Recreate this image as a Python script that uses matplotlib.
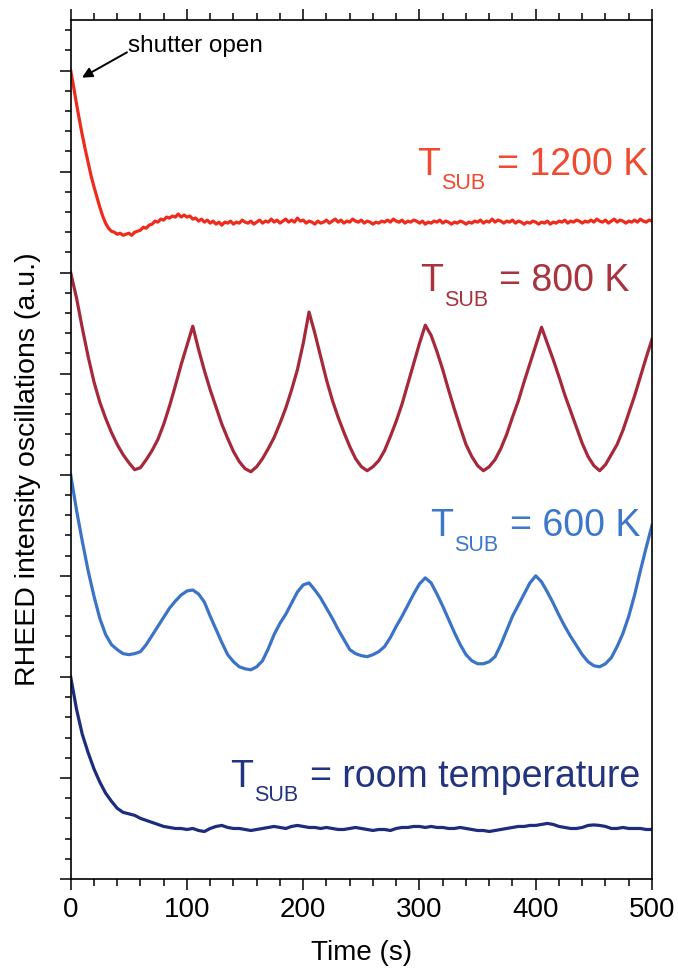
import numpy as np
import matplotlib
matplotlib.use("Agg")
import matplotlib.pyplot as plt
from matplotlib.ticker import MultipleLocator

plt.rcParams['font.family'] = ['Liberation Sans', 'DejaVu Sans']

# ---------------- data ----------------
time_5s = np.arange(0, 501, 5)
time_2p5s = np.arange(0, 500.1, 2.5)

# T_SUB = 1200 K (offset trace, sampled every 2.5 s)
i_1200k = [
    8.00, 7.84, 7.67, 7.51, 7.36, 7.22, 7.09, 6.96, 6.85, 6.75, 6.65, 6.56, 6.49, 6.44, 6.41, 6.40, 6.38, 6.39, 6.37, 6.38,
    6.39, 6.37, 6.40, 6.41, 6.42, 6.45, 6.44, 6.47, 6.48, 6.51, 6.50, 6.53, 6.52, 6.55, 6.54, 6.56, 6.55, 6.58, 6.55, 6.57,
    6.55, 6.56, 6.53, 6.54, 6.51, 6.53, 6.50, 6.52, 6.49, 6.51, 6.48, 6.50, 6.47, 6.50, 6.49, 6.51, 6.48, 6.50, 6.49, 6.52,
    6.50, 6.49, 6.51, 6.48, 6.50, 6.52, 6.49, 6.51, 6.50, 6.53, 6.50, 6.52, 6.49, 6.51, 6.53, 6.50, 6.52, 6.50, 6.54, 6.51,
    6.52, 6.49, 6.51, 6.50, 6.48, 6.51, 6.49, 6.50, 6.52, 6.49, 6.51, 6.53, 6.50, 6.52, 6.49, 6.51, 6.50, 6.53, 6.51, 6.50,
    6.52, 6.49, 6.51, 6.50, 6.48, 6.50, 6.49, 6.51, 6.50, 6.52, 6.50, 6.53, 6.51, 6.50, 6.52, 6.49, 6.51, 6.50, 6.52, 6.51,
    6.49, 6.51, 6.48, 6.50, 6.49, 6.51, 6.50, 6.52, 6.49, 6.51, 6.50, 6.48, 6.50, 6.49, 6.51, 6.50, 6.48, 6.50, 6.49, 6.51,
    6.50, 6.52, 6.49, 6.51, 6.50, 6.53, 6.50, 6.52, 6.51, 6.49, 6.51, 6.50, 6.52, 6.49, 6.51, 6.50, 6.48, 6.50, 6.49, 6.51,
    6.50, 6.48, 6.50, 6.49, 6.51, 6.48, 6.50, 6.49, 6.51, 6.50, 6.52, 6.49, 6.51, 6.50, 6.52, 6.51, 6.49, 6.51, 6.50, 6.52,
    6.50, 6.53, 6.51, 6.50, 6.52, 6.49, 6.51, 6.53, 6.50, 6.52, 6.51, 6.49, 6.51, 6.50, 6.52, 6.50, 6.53, 6.51, 6.50, 6.52,
    6.51,
]

# T_SUB = 800 K (sampled every 5 s)
i_800k = [
    6.00, 5.75, 5.45, 5.17, 4.92, 4.72, 4.56, 4.42, 4.30, 4.20,
    4.12, 4.05, 4.07, 4.15, 4.24, 4.35, 4.50, 4.68, 4.88, 5.09,
    5.28, 5.47, 5.24, 5.03, 4.84, 4.67, 4.50, 4.36, 4.23, 4.13,
    4.06, 4.03, 4.08, 4.16, 4.26, 4.37, 4.51, 4.66, 4.84, 5.04,
    5.30, 5.61, 5.40, 5.17, 4.94, 4.74, 4.57, 4.42, 4.28, 4.16,
    4.08, 4.04, 4.08, 4.14, 4.24, 4.38, 4.53, 4.70, 4.90, 5.10,
    5.30, 5.48, 5.38, 5.22, 5.04, 4.84, 4.65, 4.47, 4.30, 4.18,
    4.09, 4.04, 4.08, 4.15, 4.26, 4.40, 4.57, 4.73, 4.92, 5.10,
    5.28, 5.46, 5.30, 5.14, 4.97, 4.79, 4.63, 4.47, 4.31, 4.18,
    4.09, 4.04, 4.10, 4.20, 4.30, 4.44, 4.61, 4.78, 4.97, 5.16,
    5.34,
]

# T_SUB = 600 K (sampled every 5 s)
i_600k = [
    4.00, 3.65, 3.34, 3.05, 2.80, 2.58, 2.42, 2.32, 2.27, 2.23,
    2.22, 2.23, 2.25, 2.32, 2.41, 2.50, 2.59, 2.68, 2.75, 2.81,
    2.85, 2.86, 2.82, 2.74, 2.60, 2.47, 2.34, 2.22, 2.15, 2.10,
    2.08, 2.07, 2.10, 2.16, 2.28, 2.42, 2.53, 2.62, 2.73, 2.84,
    2.91, 2.93, 2.86, 2.78, 2.68, 2.58, 2.47, 2.37, 2.27, 2.23,
    2.21, 2.20, 2.22, 2.25, 2.30, 2.39, 2.50, 2.60, 2.71, 2.82,
    2.92, 2.98, 2.93, 2.82, 2.70, 2.57, 2.44, 2.32, 2.22, 2.16,
    2.13, 2.13, 2.15, 2.20, 2.32, 2.46, 2.60, 2.71, 2.82, 2.93,
    3.00, 2.94, 2.84, 2.73, 2.61, 2.50, 2.40, 2.31, 2.22, 2.15,
    2.11, 2.10, 2.13, 2.19, 2.30, 2.43, 2.60, 2.81, 3.05, 3.28,
    3.50,
]

# T_SUB = room temperature (sampled every 5 s)
i_room = [
    2.00, 1.68, 1.43, 1.25, 1.09, 0.96, 0.85, 0.77, 0.70, 0.66,
    0.645, 0.63, 0.60, 0.58, 0.56, 0.54, 0.52, 0.51, 0.50, 0.50,
    0.49, 0.50, 0.48, 0.47, 0.50, 0.52, 0.53, 0.51, 0.50, 0.50,
    0.49, 0.48, 0.49, 0.50, 0.51, 0.52, 0.51, 0.50, 0.52, 0.53,
    0.52, 0.51, 0.51, 0.50, 0.51, 0.50, 0.49, 0.49, 0.50, 0.51,
    0.50, 0.49, 0.48, 0.49, 0.49, 0.48, 0.50, 0.51, 0.51, 0.52,
    0.52, 0.51, 0.52, 0.51, 0.51, 0.50, 0.50, 0.51, 0.50, 0.49,
    0.48, 0.48, 0.47, 0.48, 0.49, 0.50, 0.51, 0.52, 0.52, 0.53,
    0.53, 0.54, 0.55, 0.54, 0.52, 0.51, 0.50, 0.50, 0.51, 0.53,
    0.535, 0.53, 0.52, 0.50, 0.50, 0.51, 0.50, 0.50, 0.50, 0.49,
    0.49,
]

labels_rest = ["1200 K", "800 K", "600 K", "room temperature"]
x_ticks = [0, 100, 200, 300, 400, 500]

# ---------------- figure ----------------
DPI = 100
fig = plt.figure(figsize=(6.78, 9.69), dpi=DPI)
ax = fig.add_axes([70.7 / 678, 1 - 879 / 969, (652 - 70.7) / 678, (879 - 20) / 969])

c1200, c800, c600, croom = "#ee2b1c", "#a6293b", "#3b74c6", "#1d2c7c"
lw = 2.3
ax.plot(time_2p5s, i_1200k, color=c1200, lw=2.3, solid_joinstyle='round')
ax.plot(time_5s, i_800k, color=c800, lw=lw, solid_joinstyle='round')
ax.plot(time_5s, i_600k, color=c600, lw=lw, solid_joinstyle='round')
ax.plot(time_5s, i_room, color=croom, lw=lw, solid_joinstyle='round')

ax.set_xlim(0, 500)
ax.set_ylim(0, 8.5)
ax.set_xticks(x_ticks)
ax.xaxis.set_minor_locator(MultipleLocator(20))
ax.yaxis.set_major_locator(MultipleLocator(1))
ax.yaxis.set_minor_locator(MultipleLocator(0.2))
ax.tick_params(axis='x', which='both', direction='out', top=True, bottom=True,
               labelsize=20, pad=5, width=1.1)
ax.tick_params(axis='x', which='major', length=8)
ax.tick_params(axis='x', which='minor', length=5)
ax.tick_params(axis='y', which='both', direction='out', left=True, right=False,
               labelleft=False, width=1.1)
ax.tick_params(axis='y', which='major', length=8)
ax.tick_params(axis='y', which='minor', length=4)
for s in ax.spines.values():
    s.set_linewidth(1.2)
ax.set_xlabel("Time (s)", fontsize=20, labelpad=12)

fig.text(28 / 678, 1 - 469 / 969, "RHEED intensity oscillations (a.u.)",
         rotation=90, ha='center', va='center', fontsize=20.5)

# ---------------- T_SUB labels ----------------
renderer = fig.canvas.get_renderer()
BIG, SMALL = 27, 15.5


def tsub_label(x, y, rest, color):
    t1 = ax.text(x, y, "T", fontsize=BIG, color=color, ha='left', va='baseline')
    w1 = t1.get_window_extent(renderer).width * 72 / DPI
    t2 = ax.annotate("SUB", xy=(x, y), xycoords='data', xytext=(w1 + 1.0, -10.5),
                     textcoords='offset points', fontsize=SMALL, color=color,
                     ha='left', va='baseline')
    w2 = t2.get_window_extent(renderer).width * 72 / DPI
    ax.annotate("= " + rest, xy=(x, y), xycoords='data', xytext=(w1 + w2 + 9.0, 0),
                textcoords='offset points', fontsize=BIG, color=color,
                ha='left', va='baseline')


tsub_label(297.8, 6.97, labels_rest[0], "#f04a30")
tsub_label(300.3, 5.815, labels_rest[1], "#a8343f")
tsub_label(309.0, 3.39, labels_rest[2], "#3d77c9")
tsub_label(137.0, 0.914, labels_rest[3], "#22337f")

# ---------------- shutter open annotation ----------------
ax.text(49.3, 8.24, "shutter open", fontsize=17.5, ha='left', va='center', color='black')
ax.annotate("", xy=(9.7, 7.93), xytext=(48.4, 8.18), xycoords='data',
            arrowprops=dict(arrowstyle='-|>', color='black', lw=1.4,
                            mutation_scale=15, shrinkA=0, shrinkB=0))

fig.savefig("out.png", dpi=DPI)
